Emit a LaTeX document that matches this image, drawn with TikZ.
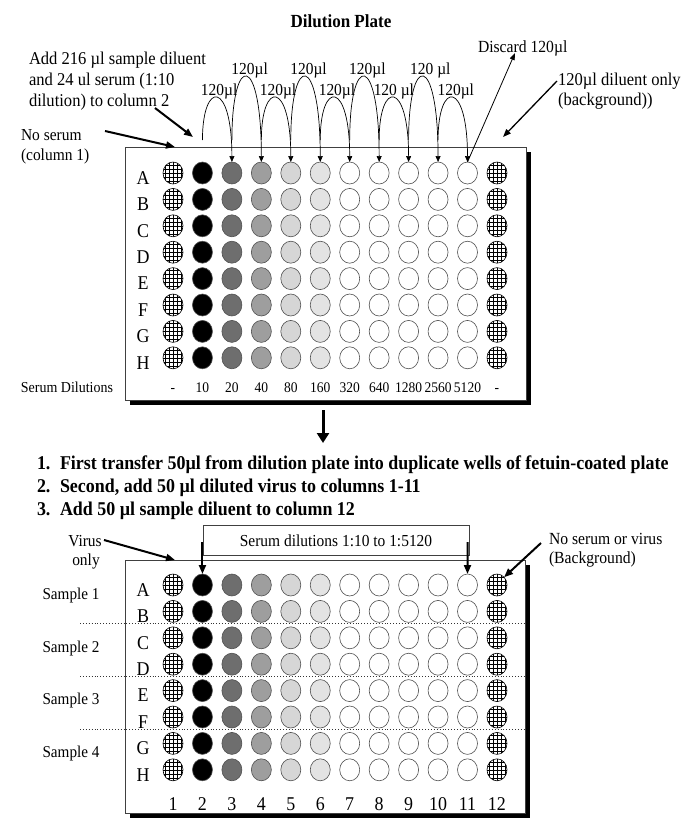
\documentclass[tikz,border=0pt]{standalone}
\usepackage{fontspec}
\setmainfont{Liberation Serif}[FakeStretch=0.92]
\usetikzlibrary{arrows.meta,shapes.geometric}
\definecolor{wellb}{HTML}{505050}
\definecolor{plateb}{HTML}{404040}
\definecolor{gA}{HTML}{6E6E6E}
\definecolor{gB}{HTML}{9E9E9E}
\definecolor{gC}{HTML}{D6D6D6}
\definecolor{gD}{HTML}{E3E3E3}
\newcommand{\myfs}[1]{\fontsize{#1}{#1}\selectfont}
\begin{document}
\begin{tikzpicture}[x=1pt,y=-1pt,
  every node/.style={inner sep=0pt,outer sep=0pt},
  well/.style={ellipse,draw=wellb,line width=0.6pt,minimum width=20pt,minimum height=22pt,inner sep=0pt},
  hatch/.style={well,fill=white,draw=black,path picture={
    \foreach \d in {-8,-4,0,4,8}{
      \draw[line width=0.55pt] ([xshift=\d pt]path picture bounding box.north) -- ([xshift=\d pt]path picture bounding box.south);
      \draw[line width=0.55pt] ([yshift=\d pt]path picture bounding box.west) -- ([yshift=\d pt]path picture bounding box.east);
    }}},
  plate/.style={draw=plateb,line width=0.7pt,fill=white},
  shadowbox/.style={fill=black},
  txt/.style={font={\myfs{16.8}}},
  bigtxt/.style={font={\myfs{18}}},
  instr/.style={font={\myfs{19.5}\bfseries},anchor=base west},
  rowlab/.style={font={\myfs{19.5}}},
  arcline/.style={line width=0.7pt,-{Triangle[length=6pt,width=5pt]}},
  thinarrow/.style={line width=0.8pt,-{Triangle[length=7pt,width=5pt]}},
  medarrow/.style={line width=1.3pt,-{Triangle[length=8pt,width=6pt]}},
  boldarrow/.style={line width=2pt,-{Triangle[length=9pt,width=7pt]}},
  bigarrow/.style={line width=3pt,-{Triangle[length=10pt,width=12pt]}}
]
\useasboundingbox (0,0) rectangle (700,838);

% ---------- Title ----------
\node[font={\myfs{18.5}\bfseries},anchor=base] (title) at (341,27) {Dilution Plate};

% ---------- Dilution plate ----------
\fill[shadowbox] (130,152) rectangle (531,405);
\draw[plate] (125,147) rectangle (526,400);

\foreach \r/\L [evaluate=\r as \y using 173+(\r-1)*26.4] in {1/A,2/B,3/C,4/D,5/E,6/F,7/G,8/H}{
  \node[rowlab] (la-\r) at (143,\y+5) {\L};
  \node[hatch] (a-\r-1) at (173,\y) {};
  \node[hatch] (a-\r-12) at (497,\y) {};
  \foreach \c/\fc in {2/black,3/gA,4/gB,5/gC,6/gD,7/white,8/white,9/white,10/white,11/white}{
    \node[well,fill=\fc] (a-\r-\c) at ({173+(\c-1)*29.45},\y) {};
  }
}

% dilution labels
\node[font={\myfs{15.2}},anchor=base east] (serdil) at (113,392) {Serum Dilutions};
\foreach \c/\t in {1/-,2/10,3/20,4/40,5/80,6/160,7/320,8/640,9/1280,10/2560,11/5120,12/-}{
  \node[font={\myfs{14.7}},anchor=base] (d-\c) at ({173+(\c-1)*29.45},392) {\t};
}

% serial transfer arcs
\foreach \c in {2,...,10}{
  \coordinate (s-\c) at ({173+(\c-1)*29.45},140);
}
\foreach \c/\h [evaluate=\c as \n using int(\c+1)] in {2/80,3/52,4/80,5/52,6/80,7/52,8/80,9/52,10/80}{
  \draw[arcline] (s-\c) .. controls ({173+(\c-1)*29.45},\h) and ({173+\c*29.45},\h) .. (a-1-\n.north);
}
\foreach \c/\yb/\t/\dx in {2/95/120µl/2,3/74/120µl/3,4/95/120µl/2,5/74/120µl/3,6/95/120µl/2,7/74/120µl/3,8/95/120 µl/0,9/74/120 µl/7,10/95/120µl/3}{
  \node[txt,anchor=base] (lab-\c) at ({173+(\c-0.5)*29.45+\dx},\yb) {\t};
}

% discard
\node[font={\myfs{17}},anchor=base west] (discard) at (478,52) {Discard 120µl};
\coordinate (discend) at (515,53);
\draw[thinarrow] (a-1-11.north) -- (discend);

% left notes
\node[bigtxt,anchor=base west] (add1) at (29,64) {Add 216 µl sample diluent};
\node[bigtxt,anchor=base west] (add2) at (29,85) {and 24 ul serum (1:10};
\node[bigtxt,anchor=base west] (add3) at (29,106) {dilution) to column 2};
\coordinate (addst) at (155,108);
\coordinate (addend) at (193,137);
\draw[boldarrow] (addst) -- (addend);

\node[txt,anchor=base west] (nos1) at (21,140) {No serum};
\node[txt,anchor=base west] (nos2) at (21,160) {(column 1)};
\coordinate (nosst) at (105,131);
\coordinate (nosend) at (175,147);
\draw[boldarrow] (nosst) -- (nosend);

\node[font={\myfs{18}},anchor=base west] (bg1) at (558,85) {120µl diluent only};
\node[font={\myfs{18}},anchor=base west] (bg2) at (558,105) {(background))};
\coordinate (bgst) at (557,81);
\coordinate (bgend) at (503,137);
\draw[medarrow] (bgst) -- (bgend);

% ---------- Transfer arrow ----------
\coordinate (tst) at (323,410);
\coordinate (tend) at (323,443);
\draw[bigarrow] (tst) -- (tend);

% ---------- Instructions ----------
\node[instr] (i1n) at (37,469) {1.};
\node[instr] (i1) at (60,469) {First transfer 50µl from dilution plate into duplicate wells of fetuin-coated plate};
\node[instr] (i2n) at (37,492) {2.};
\node[instr] (i2) at (60,492) {Second, add 50 µl diluted virus to columns 1-11};
\node[instr] (i3n) at (37,515) {3.};
\node[instr] (i3) at (60,515) {Add 50 µl sample diluent to column 12};

% ---------- Assay plate ----------
\fill[shadowbox] (130,565) rectangle (530,818);
\draw[plate] (125,560) rectangle (525,813);

\foreach \r/\L [evaluate=\r as \y using 585+(\r-1)*26.4] in {1/A,2/B,3/C,4/D,5/E,6/F,7/G,8/H}{
  \node[rowlab] (lb-\r) at (143,\y+5) {\L};
  \node[hatch] (b-\r-1) at (173,\y) {};
  \node[hatch] (b-\r-12) at (497,\y) {};
  \foreach \c/\fc in {2/black,3/gA,4/gB,5/gC,6/gD,7/white,8/white,9/white,10/white,11/white}{
    \node[well,fill=\fc] (b-\r-\c) at ({173+(\c-1)*29.45},\y) {};
  }
}
\foreach \c in {1,...,12}{
  \node[font={\myfs{19.5}},anchor=base] (n-\c) at ({173+(\c-1)*29.45},810) {\c};
}

% sample separators
\foreach \yy in {623,676,729}{
  \draw[dotted,line width=0.9pt,draw=black!80] (80,\yy) -- (526,\yy);
}
\node[font={\myfs{16.5}}] (sm1) at (71,596) {Sample 1};
\node[font={\myfs{16.5}}] (sm2) at (71,649) {Sample 2};
\node[font={\myfs{16.5}}] (sm3) at (71,701) {Sample 3};
\node[font={\myfs{16.5}}] (sm4) at (71,754) {Sample 4};

% serum dilution bracket
\draw[line width=0.7pt,draw=plateb] (203,525) rectangle (469,555);
\node[txt] (sdl) at (336,541) {Serum dilutions 1:10 to 1:5120};
\coordinate (bl) at (202.45,542);
\coordinate (br) at (467.5,542);
\draw[boldarrow] (bl) -- (b-1-2.north);
\draw[boldarrow] (br) -- (b-1-11.north);

% virus only
\node[txt,anchor=base] (vo1) at (85,546) {Virus};
\node[txt,anchor=base] (vo2) at (86,565) {only};
\coordinate (vost) at (104,540);
\coordinate (voend) at (175,560);
\draw[boldarrow] (vost) -- (voend);

% background
\node[font={\myfs{17}},anchor=base west] (ns1) at (549,544) {No serum or virus};
\node[font={\myfs{17}},anchor=base west] (ns2) at (549,563) {(Background)};
\coordinate (nsst) at (541,543);
\draw[boldarrow] (nsst) -- (b-1-12.north east);
\end{tikzpicture}
\end{document}
